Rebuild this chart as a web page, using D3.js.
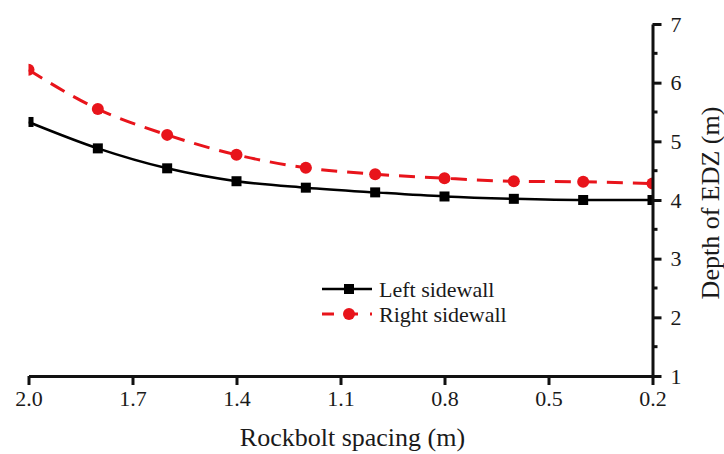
<!DOCTYPE html>
<html>
<head>
<meta charset="utf-8">
<script src="https://cdn.jsdelivr.net/npm/d3@7"></script>
<style>
  body { margin: 0; background: #fff; }
  svg { display: block; }
  text { font-family: "Liberation Serif", "Times New Roman", serif; fill: #1a1a1a; }
</style>
</head>
<body>
<svg id="chart" width="724" height="454"></svg>
<script>
// rockbolt spacing (m)
var spacing = [2.0, 1.8, 1.6, 1.4, 1.2, 1.0, 0.8, 0.6, 0.4, 0.2];
var leftSidewall = [5.33, 4.88, 4.54, 4.32, 4.21, 4.13, 4.06, 4.02, 4.00, 4.00];
var rightSidewall = [6.22, 5.55, 5.11, 4.77, 4.55, 4.44, 4.37, 4.32, 4.31, 4.28];
var xTicks = [2.0, 1.7, 1.4, 1.1, 0.8, 0.5, 0.2];
var yTicks = [1, 2, 3, 4, 5, 6, 7];
var yMinorTicks = [1.5, 2.5, 3.5, 4.5, 5.5, 6.5];

var x0 = 28.5, x1 = 652.5, yBottom = 376, yTop = 24;

var svg = d3.select('#chart');

var scaleX = d3.scaleLinear().domain([2.0, 0.2]).range([x0, x1]);
var scaleY = d3.scaleLinear().domain([1, 7]).range([yBottom, yTop]);

svg.append('clipPath').attr('id', 'plotclip')
  .append('rect')
  .attr('x', x0).attr('y', 0)
  .attr('width', x1 - x0).attr('height', yBottom);

var series = [
  { name: 'Left sidewall', values: leftSidewall, color: '#000', dash: null, width: 2.5, marker: 'square' },
  { name: 'Right sidewall', values: rightSidewall, color: '#e8141b', dash: '16,10', width: 3, marker: 'circle' }
];

var line = d3.line()
  .x(function (d) { return scaleX(d.x); })
  .y(function (d) { return scaleY(d.y); })
  .curve(d3.curveMonotoneX);

var plot = svg.append('g').attr('clip-path', 'url(#plotclip)');

series.forEach(function (s) {
  var pts = spacing.map(function (v, i) { return { x: v, y: s.values[i] }; });
  plot.append('path')
    .datum(pts)
    .attr('d', line)
    .attr('fill', 'none')
    .attr('stroke', s.color)
    .attr('stroke-width', s.width)
    .attr('stroke-dasharray', s.dash);
  if (s.marker === 'square') {
    plot.selectAll(null).data(pts).enter().append('rect')
      .attr('x', function (d) { return scaleX(d.x) - 5; })
      .attr('y', function (d) { return scaleY(d.y) - 5; })
      .attr('width', 10).attr('height', 10)
      .attr('fill', s.color);
  } else {
    plot.selectAll(null).data(pts).enter().append('circle')
      .attr('cx', function (d) { return scaleX(d.x); })
      .attr('cy', function (d) { return scaleY(d.y); })
      .attr('r', 6)
      .attr('fill', s.color);
  }
});

// bottom axis
var xAxis = d3.axisBottom(scaleX)
  .tickValues(xTicks)
  .tickFormat(d3.format('.1f'))
  .tickSize(9)
  .tickPadding(5)
  .tickSizeOuter(0);
var gx = svg.append('g').attr('transform', 'translate(0,' + yBottom + ')').call(xAxis);
gx.select('.domain').attr('stroke', '#111').attr('stroke-width', 3);
gx.selectAll('.tick line').attr('stroke', '#111').attr('stroke-width', 3);
gx.selectAll('.tick text').attr('font-size', 22).attr('fill', '#1a1a1a');

// right axis
var yAxis = d3.axisRight(scaleY)
  .tickValues(yTicks)
  .tickFormat(d3.format('d'))
  .tickSize(9)
  .tickPadding(9)
  .tickSizeOuter(0);
var gy = svg.append('g').attr('transform', 'translate(' + x1 + ',0)').call(yAxis);
gy.select('.domain').attr('stroke', '#111').attr('stroke-width', 3);
gy.selectAll('.tick line').attr('stroke', '#111').attr('stroke-width', 3);
gy.selectAll('.tick text').attr('font-size', 22).attr('fill', '#1a1a1a');

gy.selectAll('.minor').data(yMinorTicks).enter().append('line')
  .attr('class', 'minor')
  .attr('x1', 0).attr('x2', 5)
  .attr('y1', function (d) { return scaleY(d); })
  .attr('y2', function (d) { return scaleY(d); })
  .attr('stroke', '#111').attr('stroke-width', 3);

// axis titles
svg.append('text')
  .attr('x', (x0 + x1) / 2 + 12).attr('y', 446)
  .attr('text-anchor', 'middle')
  .attr('font-size', 26)
  .text('Rockbolt spacing (m)');

svg.append('text')
  .attr('transform', 'translate(719,' + 203 + ') rotate(-90)')
  .attr('text-anchor', 'middle')
  .attr('font-size', 26)
  .text('Depth of EDZ (m)');

// legend
var legend = svg.append('g').attr('transform', 'translate(322,289)');
series.forEach(function (s, i) {
  var g = legend.append('g').attr('transform', 'translate(0,' + (i * 25) + ')');
  g.append('line')
    .attr('x1', 0).attr('x2', 50).attr('y1', 0).attr('y2', 0)
    .attr('stroke', s.color).attr('stroke-width', s.width)
    .attr('stroke-dasharray', s.dash ? '12,12' : null);
  if (s.marker === 'square') {
    g.append('rect').attr('x', 22).attr('y', -5).attr('width', 10).attr('height', 10).attr('fill', s.color);
  } else {
    g.append('circle').attr('cx', 27).attr('cy', 0).attr('r', 6).attr('fill', s.color);
  }
  g.append('text')
    .attr('x', 57).attr('y', 0).attr('dy', '0.35em')
    .attr('font-size', 22)
    .text(s.name);
});
</script>
</body>
</html>
